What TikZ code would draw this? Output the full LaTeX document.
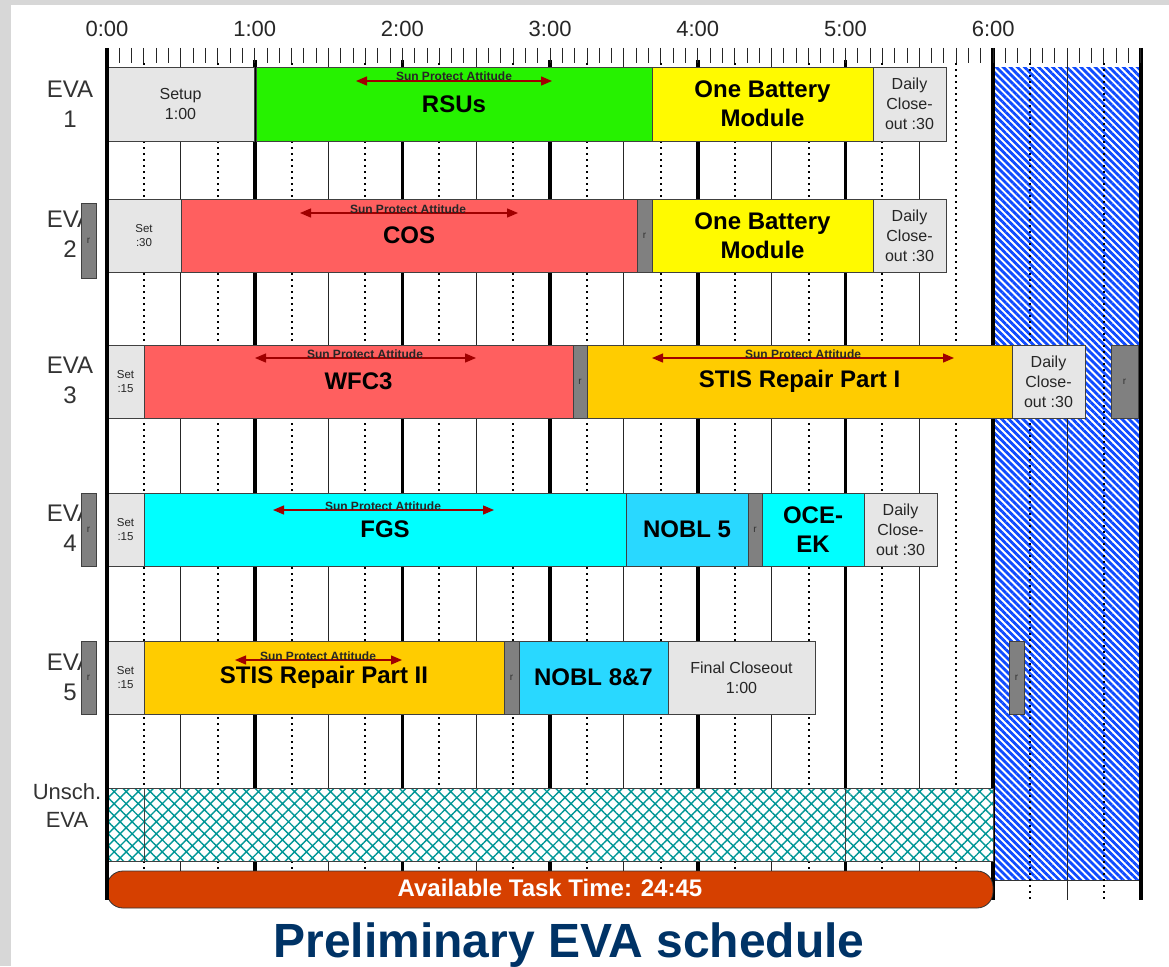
\documentclass[tikz,border=0pt]{standalone}
\usepackage{fontspec}
\setmainfont{Liberation Sans}
\usetikzlibrary{arrows.meta,patterns.meta}
\definecolor{boxgray}{RGB}{230,230,230}
\definecolor{rsugreen}{RGB}{38,242,0}
\definecolor{batyellow}{RGB}{255,250,0}
\definecolor{cosred}{RGB}{255,95,95}
\definecolor{stisorange}{RGB}{255,204,0}
\definecolor{fgscyan}{RGB}{0,255,255}
\definecolor{noblblue}{RGB}{41,216,255}
\definecolor{rgray}{RGB}{128,128,128}
\definecolor{arrowred}{RGB}{160,0,0}
\definecolor{taskorange}{RGB}{214,64,0}
\definecolor{titleblue}{RGB}{0,51,102}
\definecolor{hatchblue}{RGB}{15,75,255}
\definecolor{hatchteal}{RGB}{0,150,150}
\definecolor{bggray}{RGB}{215,215,215}
\newcommand{\taskbox}[7][]{%
  \node[#1, minimum width={#4pt-#3pt}, minimum height={#6pt-#5pt}] (#2) at ({(#3+#4)/2},{(#5+#6)/2}) {#7};}
\newcommand{\tx}[1]{107+#1*2.46167}
\begin{document}
\begin{tikzpicture}[x=1pt,y=-1pt,
  every node/.style={inner sep=0pt, outer sep=0pt},
  box/.style={draw=black!75, line width=0.8pt, align=center},
  graybox/.style={box, fill=boxgray, text=black!85, font=\fontsize{16}{20}\selectfont},
  setbox/.style={box, fill=boxgray, text=black!85, font=\fontsize{11.5}{14}\selectfont},
  task/.style={box, text=black, font=\fontsize{24}{29}\selectfont\bfseries},
  rbox/.style={box, fill=rgray, text=black!80, font=\fontsize{10}{10}\selectfont},
  evalabel/.style={text=black!80, font=\fontsize{24}{30}\selectfont, align=center},
  sunarrow/.style={draw=arrowred, line width=1.3pt, {Triangle[length=11pt,width=9pt,fill=arrowred]}-{Triangle[length=11pt,width=9pt,fill=arrowred]}},
  suntext/.style={font=\fontsize{12}{12}\selectfont\bfseries, text=black!85, anchor=base},
  hourline/.style={line width=3.6pt, black},
  halfline/.style={line width=1pt, black!85},
  qline/.style={line width=2pt, black, dash pattern=on 2pt off 4pt},
  tickline/.style={line width=1pt, black!85},
  unsch/.style={draw=black!75, line width=0.8pt, pattern={Hatch[angle=45,distance=8.5pt,line width=1.4pt]}, pattern color=hatchteal}
]
\useasboundingbox (0,0) rectangle (1169,966);
% background
\fill[bggray] (0,0) rectangle (1169,966);
\fill[white] (11,5) rectangle (1169,966);
% blue blocked zone
\fill[white] (993,67) rectangle (1141,880);
\fill[pattern={Lines[angle=-45,distance=5pt,line width=2.8pt]}, pattern color=hatchblue] (993,67) rectangle (1141,880);
\draw[line width=0.8pt, black!80] (993,880) -- (1141,880);
% grid lines
\foreach \m in {15,45,...,405} \draw[qline] ({\tx{\m}},63) -- ({\tx{\m}},900);
\foreach \m in {30,90,...,390} \draw[halfline] ({\tx{\m}},63) -- ({\tx{\m}},900);
\foreach \m in {60,120,...,300} \draw[hourline] ({\tx{\m}},60) -- ({\tx{\m}},880);
\foreach \m in {360,420} \draw[hourline] ({\tx{\m}},48) -- ({\tx{\m}},900);
% ticks
\foreach \m in {0,5,...,420} \draw[tickline] ({\tx{\m}},48) -- ({\tx{\m}},63);
\foreach \h in {0,...,6} \node[font=\fontsize{22}{22}\selectfont, text=black!85] (hl\h) at ({107+\h*147.7},29) {\h:00};
% EVA 1
\taskbox[graybox]{setup1}{107}{254}{67}{141}{Setup\\1:00}
\taskbox[task, fill=rsugreen]{rsu}{256}{652}{67}{141}{RSUs}
\taskbox[task, fill=batyellow]{bat1}{652}{873}{67}{141}{One Battery\\Module}
\taskbox[graybox]{close1}{873}{946}{67}{141}{Daily\\Close-\\out :30}
% EVA 2
\taskbox[setbox]{set2}{107}{181}{199}{272}{Set\\:30}
\taskbox[task, fill=cosred]{cos}{181}{637}{199}{272}{COS}
\taskbox[rbox]{r2a}{637}{652}{199}{272}{r}
\taskbox[task, fill=batyellow]{bat2}{652}{873}{199}{272}{One Battery\\Module}
\taskbox[graybox]{close2}{873}{946}{199}{272}{Daily\\Close-\\out :30}
% EVA 3
\taskbox[setbox]{set3}{107}{144}{345}{418}{Set\\:15}
\taskbox[task, fill=cosred]{wfc}{144}{573}{345}{418}{WFC3}
\taskbox[rbox]{r3a}{573}{587}{345}{418}{r}
\taskbox[task, fill=stisorange]{stis1}{587}{1012}{345}{418}{STIS Repair Part I}
\taskbox[graybox]{close3}{1012}{1085}{345}{418}{Daily\\Close-\\out :30}
\taskbox[rbox]{r3b}{1111}{1138}{345}{418}{r}
% EVA 4
\taskbox[setbox]{set4}{107}{144}{493}{566}{Set\\:15}
\taskbox[task, fill=fgscyan]{fgs}{144}{626}{493}{566}{FGS}
\taskbox[task, fill=noblblue]{nobl5}{626}{748}{493}{566}{NOBL 5}
\taskbox[rbox]{r4a}{748}{762}{493}{566}{r}
\taskbox[task, fill=fgscyan]{oce}{762}{864}{493}{566}{OCE-\\EK}
\taskbox[graybox]{close4}{864}{937}{493}{566}{Daily\\Close-\\out :30}
% EVA 5
\taskbox[setbox]{set5}{107}{144}{641}{714}{Set\\:15}
\taskbox[task, fill=stisorange]{stis2}{144}{504}{641}{714}{STIS Repair Part II}
\taskbox[rbox]{r5a}{504}{519}{641}{714}{r}
\taskbox[task, fill=noblblue]{nobl87}{519}{668}{641}{714}{NOBL 8\&7}
\taskbox[graybox]{final}{668}{815}{641}{714}{Final Closeout\\1:00}
\taskbox[rbox]{r5b}{1009}{1024}{641}{714}{r}
% Unscheduled EVA
\fill[white] (107,788) rectangle (993,861);
\taskbox[unsch]{u1}{107}{144}{788}{861}{}
\taskbox[unsch]{u2}{144}{845}{788}{861}{}
\taskbox[unsch]{u3}{845}{993}{788}{861}{}
% Sun protect attitude arrows
\coordinate (s1l) at (356,81); \coordinate (s1r) at (552,81);
\draw[sunarrow] (s1l) -- (s1r);
\node[suntext] (t1) at (454,81) {Sun Protect Attitude};
\coordinate (s2l) at (300,213); \coordinate (s2r) at (518,213);
\draw[sunarrow] (s2l) -- (s2r);
\node[suntext] (t2) at (408,213) {Sun Protect Attitude};
\coordinate (s3l) at (255,358); \coordinate (s3r) at (476,358);
\draw[sunarrow] (s3l) -- (s3r);
\node[suntext] (t3) at (365,358) {Sun Protect Attitude};
\coordinate (s4l) at (652,358); \coordinate (s4r) at (954,358);
\draw[sunarrow] (s4l) -- (s4r);
\node[suntext] (t4) at (803,358) {Sun Protect Attitude};
\coordinate (s5l) at (273,510); \coordinate (s5r) at (494,510);
\draw[sunarrow] (s5l) -- (s5r);
\node[suntext] (t5) at (383,510) {Sun Protect Attitude};
\coordinate (s6l) at (235,660); \coordinate (s6r) at (402,660);
\draw[sunarrow] (s6l) -- (s6r);
\node[suntext] (t6) at (318,660) {Sun Protect Attitude};
% available task time bar
\node[draw=black!80, line width=0.8pt, fill=taskorange, rounded corners=16pt, minimum width=886pt, minimum height=37pt] (avail) at (550,889.5) {};
\node[anchor=base, text=white, font=\fontsize{24}{24}\selectfont\bfseries] (availtxt) at (550,896) {Available Task Time: 24:45};
% zero line on top
\draw[hourline, line width=4pt] (107,48) -- (107,900);
% row labels
\node[evalabel] (lab1) at (70,104) {EVA\\1};
\node[evalabel] (lab2) at (70,234) {EVA\\2};
\node[evalabel] (lab3) at (70,380) {EVA\\3};
\node[evalabel] (lab4) at (70,528) {EVA\\4};
\node[evalabel] (lab5) at (70,677) {EVA\\5};
\node[text=black!80, font=\fontsize{22}{28}\selectfont, align=center] (lab6) at (67,806) {Unsch.\\EVA};
\taskbox[rbox]{r2o}{81}{96}{203}{278}{r}
\taskbox[rbox]{r4o}{81}{96}{493}{566}{r}
\taskbox[rbox]{r5o}{81}{96}{641}{714}{r}
% title
\node[anchor=base, text=titleblue, font=\fontsize{48}{50}\selectfont\bfseries] (title) at (569,957) {Preliminary EVA schedule};
\end{tikzpicture}
\end{document}
